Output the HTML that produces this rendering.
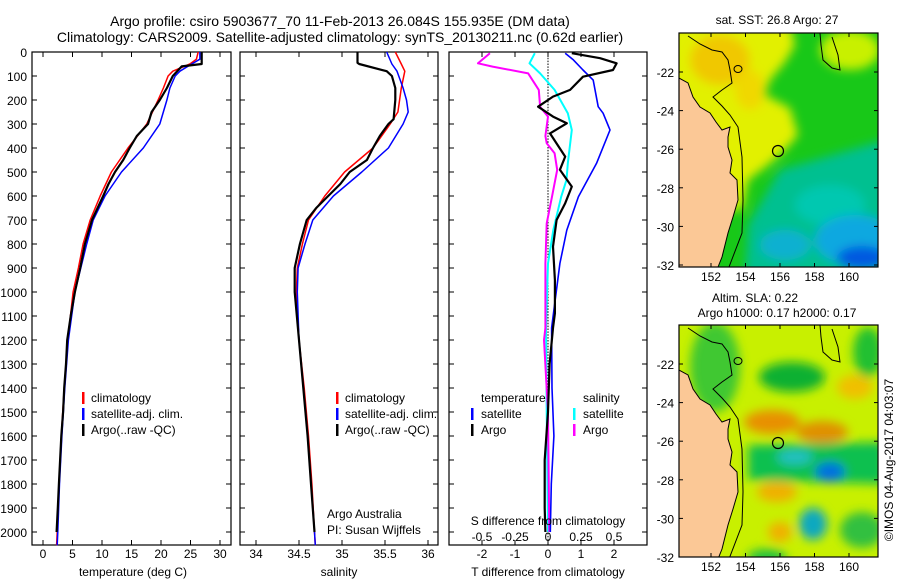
<!DOCTYPE html>
<html><head><meta charset="utf-8"><style>
body{margin:0;background:#fff;}
svg{display:block;font-family:"Liberation Sans",sans-serif;}
text{fill:#000;}
</style></head><body>
<svg id="fig" width="900" height="580" viewBox="0 0 900 580">
<defs>
<filter id="bl" x="-30%" y="-30%" width="160%" height="160%"><feGaussianBlur stdDeviation="5"/></filter>
<clipPath id="c1"><rect x="679" y="33" width="199" height="234"/></clipPath>
<clipPath id="c2"><rect x="679" y="325" width="199" height="232"/></clipPath>
</defs>
<text x="340" y="26" font-size="14" text-anchor="middle">Argo profile: csiro 5903677_70 11-Feb-2013 26.084S 155.935E (DM data)</text>
<text x="340" y="42" font-size="14" text-anchor="middle">Climatology: CARS2009. Satellite-adjusted climatology: synTS_20130211.nc (0.62d earlier)</text>
<g id="panels"></g>
<g id="maps"></g>
</svg>
<script>
// ---- profile data (depth in dbar) ----
const tDepth = [0,50,60,100,150,200,250,300,350,400,450,500,550,600,700,800,900,1000,1100,1200,1300,1400,1500,1600,1700,1800,1900,2000];
const tArgo  = [26.9,26.9,23.5,22.0,21.0,19.8,18.4,17.8,15.9,14.7,13.6,12.2,11.1,10.2,8.3,7.1,6.3,5.4,4.7,4.1,3.9,3.6,3.4,3.1,2.9,2.7,2.5,2.3];
const cDepth = [0,30,50,80,100,150,200,300,400,500,600,700,800,900,1000,1200,1400,1600,1800,2000,2055];
const tClim  = [26.3,26.0,24.9,22.0,21.2,20.4,19.5,17.6,14.4,11.6,9.7,8.0,6.8,6.0,5.1,4.2,3.6,3.1,2.7,2.4,2.3];
const tSat   = [26.6,26.6,25.2,23.2,22.4,21.5,21.0,19.8,17.0,13.3,10.5,8.5,7.4,6.4,5.4,4.3,3.7,3.2,2.8,2.5,2.4];
const sDepth = [0,45,50,80,100,150,200,280,300,350,400,450,500,550,600,650,700,800,900,1000,1200,1400,1600,1800,2000];
const sArgo  = [35.18,35.18,35.2,35.52,35.58,35.62,35.62,35.6,35.54,35.44,35.36,35.29,35.09,34.98,34.84,34.7,34.59,34.51,34.45,34.45,34.5,34.55,34.6,34.64,34.68];
const scDepth= [0,50,80,150,200,250,300,400,500,600,700,800,900,1000,1200,1400,1600,1800,2000,2055];
const sClim  = [35.62,35.69,35.73,35.69,35.67,35.65,35.56,35.36,35.03,34.8,34.61,34.54,34.48,34.47,34.5,34.56,34.61,34.65,34.68,34.69];
const sSat   = [35.52,35.58,35.64,35.71,35.75,35.77,35.71,35.54,35.23,34.9,34.66,34.57,34.49,34.48,34.5,34.55,34.6,34.64,34.68,34.69];
const dDepthA= [5,26,47,75,103,158,186,228,269,297,339,436,491,561,630,700,811,950,1089,1150,1300,1500,1700,1900,2000];
const dTArgo = [0.72,1.58,2.08,1.97,1.06,0.67,0.15,-0.30,0.15,0.57,0.06,0.52,0.36,0.72,0.52,0.26,0.15,0.21,0.21,0.15,0.05,0.0,-0.1,-0.1,-0.08];
const dDepthB= [5,33,75,117,228,255,325,464,603,742,881,1150,1400,1600,1800,2000];
const dTSat  = [0.52,0.77,1.06,1.37,1.52,1.67,1.88,1.47,0.92,0.57,0.36,0.11,0.12,0.18,0.1,0.07];
const dDepthC= [5,47,89,158,255,325,464,533,603,742,881,1150,1500,2000];
const dSSat  = [-0.10,-0.14,-0.06,0.05,0.15,0.18,0.15,0.14,0.10,0.04,0.0,-0.015,-0.01,0.0];
const dDepthM= [5,47,61,89,158,228,269,350,380,422,491,603,714,881,1150,1200,1500,2000];
const dSArgo = [-0.44,-0.53,-0.42,-0.15,-0.07,-0.06,0.0,-0.02,-0.01,0.05,0.07,0.03,-0.01,-0.02,-0.02,-0.03,0.0,0.01];
const depthTicks=[0,100,200,300,400,500,600,700,800,900,1000,1100,1200,1300,1400,1500,1600,1700,1800,1900,2000];
const tTicks=[0,5,10,15,20,25,30];
const sTicks=[34,34.5,35,35.5,36];
const dTTicks=[-2,-1,0,1,2];
const dSTicks=[-0.5,-0.25,0,0.25,0.5];
const dSTickLabels=['-0.5','-0.25','0','0.25','0.5'];

const NS='http://www.w3.org/2000/svg';
function mk(tag,attrs,parent){const e=document.createElementNS(NS,tag);for(const k in attrs)e.setAttribute(k,attrs[k]);parent.appendChild(e);return e;}
const P=document.getElementById('panels');
const top0=52,bot0=545;
const yD=d=>top0+d*0.24;
const xT=v=>43+v*5.9, xS=v=>256+(v-34)*86, xDT=v=>548+v*33, xDS=v=>548+v*132;

function frame(x0,x1,name){
  const r=mk('rect',{x:x0,y:top0,width:x1-x0,height:bot0-top0,fill:'none',stroke:'#000','stroke-width':1.2},P);
  
  
  depthTicks.forEach(d=>{mk('line',{x1:x0,x2:x0+5,y1:yD(d),y2:yD(d),stroke:'#000'},P);mk('line',{x1:x1,x2:x1-5,y1:yD(d),y2:yD(d),stroke:'#000'},P);});
}
function xticks(vals,fx,labels,y,name,topTicks){
  vals.forEach((v,i)=>{const x=fx(v);
    mk('line',{x1:x,x2:x,y1:bot0,y2:bot0-5,stroke:'#000'},P);
    if(topTicks!==false)mk('line',{x1:x,x2:x,y1:top0,y2:top0+5,stroke:'#000'},P);
    const t=mk('text',{x:x,y:y,'font-size':12,'text-anchor':'middle'},P);t.textContent=labels?labels[i]:String(v);
    
    
  });
}
function line(xs,ds,fx,color,w,name){
  const pts=xs.map((v,i)=>fx(v).toFixed(1)+','+yD(ds[i]).toFixed(1)).join(' ');
  const e=mk('polyline',{points:pts,fill:'none',stroke:color,'stroke-width':w,'stroke-linejoin':'round'},P);
  
  
}
function txt(x,y,s,name,size,anchor){const t=mk('text',{x:x,y:y,'font-size':size||12,'text-anchor':anchor||'start'},P);t.textContent=s;
  
  return t;}
function mark(x,y,c){mk('rect',{x:x,y:y-10,width:2.5,height:12,fill:c},P);}

// panel 1
frame(32,231,'temperature-panel');
depthTicks.forEach(d=>{const t=txt(27,yD(d)+5,String(d),'depth-tick-label',12,'end');});
xticks(tTicks,xT,null,558,'temperature-tick-label');
txt(133,576,'temperature (deg C)','temperature-axis-title',12,'middle');
line(tClim,cDepth,xT,'#f00',1.5,'temp-climatology-line');
line(tSat,cDepth,xT,'#00f',1.5,'temp-satellite-line');
line(tArgo,tDepth,xT,'#000',2.2,'temp-argo-line');
[['climatology','#f00'],['satellite-adj. clim.','#00f'],['Argo(..raw -QC)','#000']].forEach((l,i)=>{mark(82,402+i*16,l[1]);txt(91,402+i*16,l[0],'temp-legend-entry');});

// panel 2
frame(240,438,'salinity-panel');
xticks(sTicks,xS,null,558,'salinity-tick-label');
txt(339,576,'salinity','salinity-axis-title',12,'middle');
line(sClim,scDepth,xS,'#f00',1.5,'sal-climatology-line');
line(sSat,scDepth,xS,'#00f',1.5,'sal-satellite-line');
line(sArgo,sDepth,xS,'#000',2.2,'sal-argo-line');
[['climatology','#f00'],['satellite-adj. clim.','#00f'],['Argo(..raw -QC)','#000']].forEach((l,i)=>{mark(336,402+i*16,l[1]);txt(345,402+i*16,l[0],'sal-legend-entry');});
txt(327,518,'Argo Australia','credit-argo-australia');
txt(327,534,'PI: Susan Wijffels','credit-pi');

// panel 3
frame(449,647,'difference-panel');
xticks(dTTicks,xDT,null,558,'t-diff-tick-label');
dSTicks.forEach((v,i)=>{const t=txt(xDS(v),541,dSTickLabels[i],'s-diff-tick-label',12,'middle');});
for(let d=0;d<=2050;d+=12)mk('line',{x1:548,x2:548,y1:yD(d),y2:yD(d)+1.5,stroke:'#000','stroke-width':1},P);
line(dSSat,dDepthC,xDS,'#0ff',2,'s-diff-satellite-line');
line(dSArgo,dDepthM,xDS,'#f0f',2,'s-diff-argo-line');
line(dTSat,dDepthB,xDT,'#00f',1.6,'t-diff-satellite-line');
line(dTArgo,dDepthA,xDT,'#000',2.2,'t-diff-argo-line');
txt(548,525,'S difference from climatology','s-diff-axis-title',12,'middle');
txt(548,576,'T difference from climatology','t-diff-axis-title',12,'middle');
txt(481,402,'temperature','legend-temperature-header');
txt(583,402,'salinity','legend-salinity-header');
mark(471,418,'#00f');txt(481,418,'satellite','legend-t-satellite');
mark(471,434,'#000');txt(481,434,'Argo','legend-t-argo');
mark(573,418,'#0ff');txt(583,418,'satellite','legend-s-satellite');
mark(573,434,'#f0f');txt(583,434,'Argo','legend-s-argo');

// ---- maps ----
const M=document.getElementById('maps');
const lonTicks=[152,154,156,158,160];
const latTicks=[-22,-24,-26,-28,-30,-32];
const xL=l=>711+(l-152)*17.25;
const coast="679,78 688,83 693,97 700,107 710,113 716,122 722,130 730,127 728,137 728,147 732,160 730,173 737,180 738,200 733,217 728,233 722,257 718,267 679,267";
const shelf="688,36 700,44 712,50 722,52 728,60 730,70 732,83 722,90 713,97 722,106 730,115 738,127 742,157 743,200 742,233 729,267";
const shelf2="820,33 821,45 823,60 832,68 840,70 838,55 832,37";
function mapBase(oy,clip,name,blobs,bg){
  const g=mk('g',{'clip-path':'url(#'+clip+')'},M);
  
  
  mk('rect',{x:679,y:oy,width:199,height:234,fill:bg},g);
  const b=mk('g',{filter:'url(#bl)'},g);
  blobs.forEach(s=>{if(s[0]==='p')mk('polygon',{points:s[1].map((p,i)=>i%2?p+oy-33:p).join(' '),fill:s[2]},b);else mk('ellipse',{cx:s[1],cy:s[2]+oy-33,rx:s[3],ry:s[4],fill:s[5]},b);});
  const tr=mk('g',{transform:'translate(0,'+(oy-33)+')'},g);
  const land=mk('polygon',{points:coast,fill:'#fbc896',stroke:'#000','stroke-width':1},tr);
  
  
  mk('polyline',{points:shelf,fill:'none',stroke:'#000','stroke-width':1},tr);
  mk('polyline',{points:shelf2,fill:'none',stroke:'#000','stroke-width':1},tr);
  mk('ellipse',{cx:738,cy:69,rx:4,ry:3.5,fill:'none',stroke:'#000'},tr);
  const c=mk('circle',{cx:778,cy:151,r:5.5,fill:'none',stroke:'#000','stroke-width':1.2},tr);
  
  
  const fr=mk('rect',{x:679,y:oy,width:199,height:oy===33?234:232,fill:'none',stroke:'#000','stroke-width':1.2},M);
  lonTicks.forEach(l=>{const x=xL(l);mk('line',{x1:x,x2:x,y1:oy,y2:oy+4,stroke:'#000'},M);
    const by=oy+(oy===33?234:232);mk('line',{x1:x,x2:x,y1:by,y2:by-4,stroke:'#000'},M);
    const t=mk('text',{x:x,y:by+14,'font-size':12,'text-anchor':'middle'},M);t.textContent=String(l);
    
    });
  latTicks.forEach(l=>{const y=oy+39+(-22-l)*19.3;mk('line',{x1:679,x2:683,y1:y,y2:y,stroke:'#000'},M);mk('line',{x1:878,x2:874,y1:y,y2:y,stroke:'#000'},M);
    const t=mk('text',{x:674,y:y+5,'font-size':12,'text-anchor':'end'},M);t.textContent=String(l);
    
    });
}
mapBase(33,'c1','sst-map',[
 ['p',[670,25,790,25,795,45,785,62,770,80,765,95,790,108,798,135,785,150,768,165,748,180,742,210,670,210],'#e2f000'],
 ['e',720,60,30,25,'#f0c800'],
 ['e',750,90,15,20,'#f0d800'],
 ['e',850,50,30,20,'#c8f000'],
 ['p',[780,170,885,140,885,275,745,275,748,225],'#00c090'],
 ['e',830,205,35,20,'#00c8b0'],
 ['e',855,240,40,25,'#10a8e0'],
 ['e',862,258,25,12,'#0058e0'],
 ['e',785,245,25,15,'#10b0d0']
],'#18c818');
mapBase(325,'c2','sla-map',[
 ['e',715,75,25,45,'#40c830'],
 ['e',792,85,33,15,'#10b030'],
 ['e',868,60,15,25,'#20c030'],
 ['e',772,130,28,12,'#e89000'],
 ['e',822,140,26,11,'#e09000'],
 ['e',855,95,18,12,'#f0c000'],
 ['p',[748,153,885,150,885,192,748,188],'#10c050'],
 ['e',795,165,18,8,'#20c0c0'],
 ['e',830,180,15,10,'#0070e0'],
 ['e',813,232,14,16,'#10a8c0'],
 ['e',777,200,20,10,'#f0b000'],
 ['e',780,240,12,10,'#f0b000'],
 ['e',767,265,20,8,'#20c040'],
 ['e',862,238,22,18,'#30c040']
],'#c8f000');
function mtxt(x,y,s,name,a){const t=mk('text',{x:x,y:y,'font-size':12,'text-anchor':a||'middle'},M);t.textContent=s;
 
 }
mtxt(777,24,'sat. SST: 26.8 Argo: 27','sst-map-title');
mtxt(712,302,'Altim. SLA: 0.22','sla-map-title','start');
mtxt(777,317,'Argo h1000: 0.17 h2000: 0.17','argo-height-title');
const rt=mk('text',{x:893,y:460,'font-size':12,'text-anchor':'middle',transform:'rotate(-90 893 460)'},M);rt.textContent='©IMOS 04-Aug-2017 04:03:07';


</script>
</body></html>
